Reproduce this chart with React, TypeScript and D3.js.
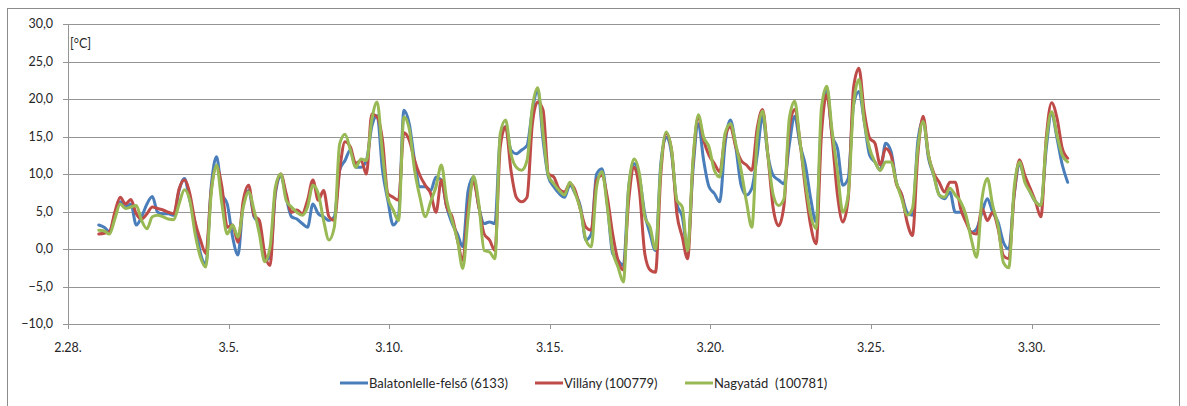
import * as d3 from "d3";

// hőmérséklet, 4 óránként, 2.28. 23:00-tól
const startDate = new Date(2021, 1, 28, 23);
const stepHours = 4;

const balatonlelle = [
  3.2, 2.9, 2.3, 4.5, 6.3, 5.6, 6.0, 3.2, 4.3, 6.0,
  7.0, 4.9, 4.7, 4.7, 4.5, 7.8, 9.4, 6.5, 3.4, -0.6,
  -2.0, 8.3, 12.3, 7.4, 6.0, 1.6, -0.8, 6.0, 7.8, 4.3,
  3.4, -1.5, -1.1, 7.4, 9.8, 6.9, 4.3, 4.0, 3.4, 2.9,
  6.0, 4.7, 4.3, 3.8, 4.3, 10.5, 11.8, 13.2, 10.9, 10.9,
  11.8, 16.3, 17.8, 10.5, 6.5, 3.2, 4.3, 18.5, 16.7, 11.8,
  8.3, 8.3, 7.8, 9.6, 9.2, 5.6, 3.4, 2.0, 0.3, 7.8,
  9.6, 5.6, 3.4, 3.6, 3.4, 14.9, 16.3, 13.2, 12.7, 13.2,
  13.8, 18.5, 21.2, 14.5, 9.6, 8.3, 7.4, 6.9, 8.5, 7.4,
  5.6, 1.2, 2.0, 10.0, 10.7, 6.0, -0.6, -1.5, -2.2, 8.3,
  11.4, 9.6, 4.7, 2.0, -0.2, 11.4, 14.9, 12.7, 6.0, 4.3,
  0.0, 10.5, 16.7, 11.8, 8.3, 7.4, 6.3, 14.0, 17.2, 13.6,
  8.5, 7.2, 8.1, 12.5, 17.7, 12.5, 9.8, 9.2, 8.7, 13.9,
  17.7, 13.9, 11.2, 6.7, 3.6, 17.0, 21.5, 15.2, 13.4, 8.5,
  9.4, 19.2, 21.0, 17.0, 12.5, 11.6, 10.5, 14.1, 13.0, 8.9,
  7.2, 4.9, 4.5, 14.3, 17.2, 12.1, 9.8, 7.2, 6.7, 7.6,
  4.9, 4.9, 4.0, 2.2, 2.7, 4.9, 6.7, 4.9, 3.6, 0.9,
  0.0, 7.2, 11.2, 9.4, 7.6, 6.3, 5.8, 13.4, 18.1, 14.8,
  11.2, 8.9,
];

const villany = [
  2.0, 2.1, 2.3, 4.9, 6.9, 6.0, 6.6, 4.7, 4.0, 4.7,
  5.6, 5.4, 5.2, 4.9, 4.7, 8.0, 9.2, 7.4, 3.6, 1.2,
  -0.6, 7.8, 11.0, 8.3, 2.9, 3.2, 0.9, 6.5, 8.5, 4.5,
  3.8, -0.6, -2.2, 7.8, 10.0, 7.4, 4.9, 5.2, 4.7, 6.5,
  9.2, 6.5, 7.8, 4.3, 3.8, 10.5, 14.3, 13.6, 11.4, 11.8,
  10.0, 18.0, 17.6, 14.5, 7.4, 6.9, 6.5, 15.5, 14.5, 11.8,
  9.8, 8.5, 7.4, 4.9, 9.2, 5.6, 4.3, 1.2, -1.5, 5.6,
  8.9, 5.6, 2.0, 1.2, -0.2, 13.6, 16.3, 10.5, 6.9, 6.3,
  6.9, 16.7, 19.6, 18.5, 10.0, 9.6, 8.0, 7.6, 8.7, 7.8,
  5.2, 2.9, 2.5, 9.2, 9.8, 6.9, 2.0, -1.5, -2.8, 6.5,
  10.9, 7.8, -0.6, -2.8, -3.1, 10.0, 15.4, 13.2, 4.7, 1.6,
  -1.3, 11.4, 17.6, 14.5, 12.5, 11.4, 10.3, 14.9, 16.3, 13.6,
  11.8, 11.2, 10.5, 16.1, 18.6, 12.5, 5.4, 3.1, 5.8, 16.1,
  18.6, 14.3, 8.1, 3.1, 0.7, 15.2, 20.6, 14.8, 7.2, 3.6,
  6.7, 21.5, 24.1, 18.3, 14.8, 14.1, 11.2, 13.4, 12.5, 8.7,
  7.2, 3.6, 1.8, 12.5, 17.7, 12.5, 10.1, 8.9, 7.6, 8.9,
  8.9, 5.4, 3.6, 2.2, 2.0, 5.4, 3.8, 4.9, 2.7, -0.9,
  -1.3, 7.2, 11.9, 9.8, 8.1, 6.3, 4.3, 14.8, 19.5, 17.5,
  13.4, 12.1,
];

const nagyatad = [
  2.5, 2.4, 2.0, 4.0, 6.0, 5.4, 5.6, 5.8, 3.8, 2.7,
  4.3, 4.5, 4.3, 4.0, 3.9, 6.0, 7.9, 6.5, 2.0, -1.1,
  -2.4, 7.4, 11.2, 6.0, 2.0, 3.2, 1.6, 5.6, 7.6, 5.2,
  2.0, -1.7, 0.3, 8.3, 10.0, 6.5, 5.6, 4.9, 4.5, 5.6,
  8.5, 7.4, 3.8, 1.2, 2.9, 14.0, 15.3, 13.2, 10.9, 12.0,
  11.8, 17.2, 19.6, 12.7, 6.9, 5.2, 3.8, 17.6, 16.0, 10.5,
  6.9, 4.3, 6.3, 8.3, 11.2, 6.5, 3.8, 1.2, -2.6, 4.3,
  9.7, 6.0, -0.2, -0.4, -1.3, 15.4, 17.2, 12.7, 10.9, 10.5,
  11.8, 18.9, 21.5, 15.4, 9.8, 8.7, 7.8, 7.2, 8.9, 7.4,
  5.2, 1.2, 0.3, 8.3, 10.3, 5.6, -0.2, -2.4, -4.4, 8.3,
  12.0, 10.0, 4.3, 2.9, 0.0, 10.9, 15.6, 13.2, 6.5, 5.6,
  -0.2, 11.8, 17.9, 14.9, 13.6, 10.5, 9.6, 15.4, 16.7, 14.0,
  10.5, 6.3, 2.9, 14.8, 18.4, 12.5, 7.2, 5.8, 6.7, 17.4,
  19.7, 14.3, 8.9, 4.5, 2.7, 18.8, 21.7, 15.7, 10.3, 4.9,
  7.2, 19.2, 22.6, 17.0, 13.4, 11.6, 10.5, 11.6, 11.6, 8.9,
  6.7, 4.5, 5.4, 13.4, 17.0, 12.5, 9.8, 7.2, 6.9, 8.1,
  7.2, 6.3, 4.5, 1.3, -1.1, 6.7, 9.4, 5.8, 3.1, -1.8,
  -2.5, 8.1, 11.6, 8.9, 7.6, 6.3, 5.8, 14.3, 18.3, 15.2,
  12.5, 11.6,
];

const seriesNames = ["Balatonlelle-felső (6133)", "Villány (100779)", "Nagyatád  (100781)"];
const seriesColors = ["#4a7ebb", "#be4b48", "#98b954"];
const yTicks = [-10, -5, 0, 5, 10, 15, 20, 25, 30];

const width = 1187;
const height = 406;
const margin = { top: 24, right: 27, bottom: 82, left: 68 };
const font = "Lato, 'Liberation Sans', sans-serif";

export default function App() {
  const series = [balatonlelle, villany, nagyatad];

  const xScale = d3
    .scaleTime()
    .domain([new Date(2021, 1, 28), new Date(2021, 3, 3)])
    .range([margin.left, width - margin.right]);

  const yScale = d3
    .scaleLinear()
    .domain([-10, 30])
    .range([height - margin.bottom, margin.top]);

  const xTicks = d3.range(0, 31, 5).map((d) => d3.timeDay.offset(new Date(2021, 1, 28), d));

  const line = d3
    .line<number>()
    .x((_, i) => xScale(d3.timeHour.offset(startDate, i * stepHours)))
    .y((d) => yScale(d))
    .curve(d3.curveMonotoneX);

  const fmt = d3.format(".1f");
  const legendX = [340, 535, 685];

  return (
    <svg
      width={width}
      height={height}
      style={{ position: "absolute", left: 0, top: 0, background: "#fff" }}
      fontFamily={font}
    >
      <rect x={7.5} y={8.5} width={1172} height={410} fill="#fff" stroke="#8c8c8c" />

      {/* rács */}
      {yTicks.map((t) => (
        <g key={t}>
          <line
            x1={margin.left - 5}
            x2={width - margin.right}
            y1={Math.round(yScale(t)) + 0.5}
            y2={Math.round(yScale(t)) + 0.5}
            stroke="#959595"
          />
          <text
            x={53}
            y={yScale(t)}
            dy="0.35em"
            textAnchor="end"
            fontSize={12.5}
            fill="#262626"
          >
            {fmt(t).replace(".", ",")}
          </text>
        </g>
      ))}
      <line
        x1={margin.left + 0.5}
        x2={margin.left + 0.5}
        y1={yScale(30)}
        y2={yScale(-10)}
        stroke="#959595"
      />
      {xTicks.map((t, i) => (
        <g key={i}>
          <line
            x1={Math.round(xScale(t)) + 0.5}
            x2={Math.round(xScale(t)) + 0.5}
            y1={yScale(-10)}
            y2={yScale(-10) + 5}
            stroke="#959595"
          />
          <text
            x={xScale(t)}
            y={348}
            dy="0.35em"
            textAnchor="middle"
            fontSize={12.5}
            fill="#262626"
          >
            {`${t.getMonth() + 1}.${t.getDate()}.`}
          </text>
        </g>
      ))}
      <text x={70} y={44} dy="0.35em" fontSize={12.5} fill="#262626">
        [°C]
      </text>

      {/* vonalak */}
      {series.map((s, i) => (
        <path
          key={i}
          d={line(s) ?? ""}
          fill="none"
          stroke={seriesColors[i]}
          strokeWidth={3}
          strokeLinejoin="round"
          strokeLinecap="round"
        />
      ))}

      {/* jelmagyarázat */}
      {seriesNames.map((name, i) => (
        <g key={name} transform={`translate(${legendX[i]},383)`}>
          <line x1={0} x2={28} y1={0} y2={0} stroke={seriesColors[i]} strokeWidth={3} />
          <text x={29} dy="0.35em" fontSize={13} fill="#262626" style={{ whiteSpace: "pre" }}>
            {name}
          </text>
        </g>
      ))}
    </svg>
  );
}
